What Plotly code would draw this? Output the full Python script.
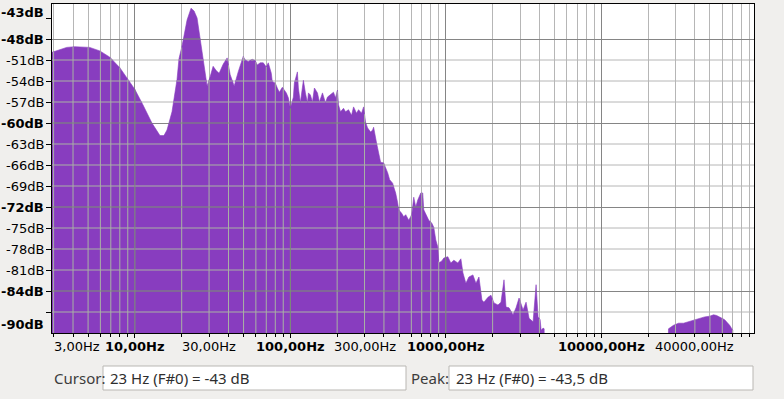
import numpy as np
import plotly.graph_objects as go

# ---------------- data ----------------
freq_hz = [2.93, 3.28, 3.64, 4.10, 5.12, 5.95, 6.90, 8.00, 9.01, 10.0,
           11.26, 12.87, 14.50, 15.38, 16.09, 17.33, 18.66, 19.22, 20.10, 21.65,
           22.98, 24.03, 25.12, 27.06, 28.29, 29.14, 30.47, 31.86, 33.31, 34.83,
           36.96, 39.22, 41.02, 43.53, 46.19, 49.75, 51.24, 53.58, 56.86, 59.47,
           61.26, 64.04, 66.96, 70.00, 72.12, 75.41, 76.54, 80.02, 82.43, 84.92,
           88.79, 91.47, 94.23, 97.07, 100.0, 104.6, 106.1, 111.0, 112.6, 116.0,
           119.5, 121.3, 125.0, 128.8, 130.7, 134.6, 138.7, 142.8, 149.4, 153.8,
           160.9, 168.2, 173.3, 181.2, 189.4, 195.1, 201.0, 204.0, 210.2, 219.8,
           226.4, 236.7, 247.5, 255.0, 266.6, 274.6, 287.1, 295.8, 304.7, 314.0,
           328.2, 338.1, 343.2, 358.8, 369.6, 380.7, 398.1, 410.2, 422.5, 435.3,
           455.0, 461.8, 475.8, 490.1, 497.5, 520.3, 535.9, 552.2, 577.4, 603.6,
           621.8, 640.6, 659.9, 690.0, 710.6, 721.3, 754.2, 777.0, 812.4, 836.7,
           861.9, 887.9, 901.2, 942.3, 970.7, 1030, 1077, 1126, 1195, 1250,
           1288, 1346, 1407, 1494, 1562, 1633, 1707, 1759, 1866, 1951,
           2040, 2165, 2264, 2367, 2439, 2550, 2706, 2829, 2958, 3140,
           3282, 3432, 3642, 3807, 3923, 4042, 4103, 4225, 4290, 4352,
           26500, 27060, 29140, 31400, 33810, 36420, 39230, 42250, 46190, 49750,
           52800, 55220, 57720, 62180, 66960, 70000, 71060, 96000]
level_db = [-49.9, -49.5, -49.2, -49.1, -49.2, -49.7, -50.6, -52.1, -53.8, -55.2,
            -57.4, -60.0, -61.8, -61.8, -61.0, -58.4, -53.8, -50.8, -49.0, -45.3,
            -43.6, -44.0, -45.0, -49.6, -52.9, -54.7, -53.4, -51.9, -52.5, -52.9,
            -51.6, -50.7, -53.1, -54.7, -52.7, -50.5, -51.0, -51.2, -50.9, -51.1,
            -51.7, -51.4, -51.4, -52.0, -51.4, -52.9, -54.1, -54.3, -55.0, -55.6,
            -54.9, -55.3, -55.7, -56.4, -57.9, -56.3, -54.3, -52.7, -55.0, -57.1,
            -55.3, -53.9, -55.7, -57.1, -55.7, -56.0, -57.0, -55.0, -55.7, -57.0,
            -55.7, -57.1, -56.3, -56.0, -55.6, -56.4, -55.3, -57.4, -58.4, -57.9,
            -58.4, -58.1, -58.9, -57.7, -58.6, -58.1, -58.6, -57.7, -59.9, -60.7,
            -61.3, -61.0, -60.6, -62.9, -64.3, -65.6, -65.7, -66.3, -67.1, -68.1,
            -68.6, -69.1, -70.0, -71.4, -72.4, -72.9, -73.4, -73.1, -73.9, -73.1,
            -70.6, -72.0, -71.0, -70.0, -70.0, -72.4, -73.4, -73.9, -74.3, -74.9,
            -76.7, -77.7, -80.0, -79.7, -79.3, -79.1, -80.0, -79.6, -80.0, -79.4,
            -81.4, -82.9, -82.0, -81.7, -82.9, -82.0, -85.3, -85.6, -84.9, -84.6,
            -85.7, -86.0, -85.6, -82.4, -86.3, -86.4, -87.4, -86.4, -85.0, -86.7,
            -85.6, -87.9, -88.4, -83.1, -87.7, -88.1, -89.6, -89.3, -89.4, -100,
            -100, -89.4, -88.9, -88.6, -88.6, -88.4, -88.1, -87.9, -87.7, -87.6,
            -87.4, -87.5, -87.7, -88.1, -88.9, -89.6, -100, -100]

y_label_vals = [-43, -48, -51, -54, -57, -60, -63, -66, -69, -72, -75, -78, -81, -84, -90]
y_label_bold = [-43, -48, -60, -72, -84, -90]
y_grid_major = [-48, -60, -72, -84]
y_grid_minor = [-51, -54, -57, -63, -66, -69, -75, -78, -81, -87]

x_label_vals = [3, 10, 30, 100, 300, 1000, 10000, 40000]
x_label_text = ["3,00Hz", "10,00Hz", "30,00Hz", "100,00Hz", "300,00Hz",
                "1000,00Hz", "10000,00Hz", "40000,00Hz"]
x_label_bold = [False, True, False, True, False, True, True, False]
x_grid_major = [10, 100, 1000, 10000]

cursor_text = "23 Hz (F#0) = -43 dB"
peak_text = "23 Hz (F#0) = -43,5 dB"

F_MIN, F_MAX = 2.93, 96000.0
DB_MIN, DB_MAX = -90, -43

# ---------------- style ----------------
W, H = 784, 399
ML, MR, MT, MB = 52, 30, 4, 66
PW, PH = W - ML - MR, H - MT - MB
FILL = "#883dbf"
GRID_MINOR, GRID_MAJOR = "#b6b6b6", "#858585"
OVER_MINOR, OVER_MAJOR = "#a9b2a4", "#7a9470"
BG = "#f0efed"
TICK_FONT = dict(family="DejaVu Sans", size=13, color="black")

x_grid_minor = [m * 10 ** e for e in range(0, 5) for m in range(2, 10)
                if F_MIN <= m * 10 ** e <= F_MAX]

lx0, lx1 = np.log10(F_MIN), np.log10(F_MAX)


def xpaper(f):
    return (np.log10(f) - lx0) / (lx1 - lx0)


def px_to_paper(px, py):
    return (px - ML) / PW, (H - MB - py) / PH


fig = go.Figure()

# baseline + filled spectrum
fig.add_trace(go.Scatter(x=freq_hz, y=[-100] * len(freq_hz), mode="lines",
                         line=dict(width=0, color=FILL), hoverinfo="skip"))
fig.add_trace(go.Scatter(x=freq_hz, y=level_db, mode="lines", fill="tonexty",
                         fillcolor=FILL, line=dict(width=0.6, color=FILL),
                         hoverinfo="skip"))

# grid lines drawn over the filled area (different tint in the reference)
logf = np.log10(freq_hz)


def over_vertical(vals):
    xs, ys = [], []
    for g in vals:
        top = min(float(np.interp(np.log10(g), logf, level_db)), DB_MAX)
        if top > DB_MIN:
            xs += [g, g, None]
            ys += [DB_MIN, top, None]
    return xs, ys


u = np.linspace(lx0, lx1, 8000)
yy = np.interp(u, logf, level_db)


def over_horizontal(vals):
    xs, ys = [], []
    for v in vals:
        m = yy >= v
        i = 0
        n = len(m)
        while i < n:
            if m[i]:
                j = i
                while j + 1 < n and m[j + 1]:
                    j += 1
                xs += [10 ** u[i], 10 ** u[j], None]
                ys += [v, v, None]
                i = j + 1
            else:
                i += 1
    return xs, ys


for vals_v, vals_h, col in [(x_grid_minor, y_grid_minor, OVER_MINOR),
                            (x_grid_major, y_grid_major, OVER_MAJOR)]:
    xv, yv = over_vertical(vals_v)
    xh, yh = over_horizontal(vals_h)
    fig.add_trace(go.Scatter(x=xv + xh, y=yv + yh, mode="lines",
                             line=dict(width=1, color=col), hoverinfo="skip"))

fig.update_xaxes(type="log", range=[lx0, lx1], tickmode="array", tickvals=x_grid_major,
                 showticklabels=False, ticks="outside", ticklen=4, tickcolor="black",
                 showgrid=True, gridcolor=GRID_MAJOR, gridwidth=1,
                 minor=dict(tickmode="array", tickvals=x_grid_minor, ticks="outside",
                            ticklen=3, tickcolor="black", showgrid=True,
                            gridcolor=GRID_MINOR, gridwidth=1),
                 showline=True, linecolor="black", linewidth=1, mirror=True,
                 zeroline=False, fixedrange=True)
fig.update_yaxes(range=[DB_MIN, DB_MAX], tickmode="array", tickvals=y_grid_major,
                 showticklabels=False, ticks="outside", ticklen=5, tickcolor="black",
                 showgrid=True, gridcolor=GRID_MAJOR, gridwidth=1,
                 minor=dict(tickmode="array", tickvals=y_grid_minor + [-45], ticks="outside",
                            ticklen=5, tickcolor="black", showgrid=False),
                 showline=True, linecolor="black", linewidth=1, mirror=True,
                 zeroline=False, fixedrange=True)

annotations = []
# y labels
for v in y_label_vals:
    txt = f"{v}dB"
    if v in y_label_bold:
        txt = f"<b>{txt}</b>"
    shift = 0
    if v == DB_MAX:
        shift = -8.5
    elif v == DB_MIN:
        shift = 8.5
    annotations.append(dict(xref="paper", x=0, xanchor="right", xshift=-6,
                            yref="y", y=v, yanchor="middle", yshift=shift,
                            text=txt, showarrow=False, font=TICK_FONT))
# x labels
for v, t, b in zip(x_label_vals, x_label_text, x_label_bold):
    txt = f"<b>{t}</b>" if b else t
    xp = float(xpaper(v))
    anchor = "center"
    if xp < 0.03:
        anchor = "left"
    annotations.append(dict(xref="paper", x=xp, xanchor=anchor, xshift=-2 if anchor == "left" else 0,
                            yref="paper", y=0, yanchor="middle", yshift=-13,
                            text=txt, showarrow=False, font=TICK_FONT))

shapes = []
# gray minor horizontal grid lines (under the spectrum)
for v in y_grid_minor:
    shapes.append(dict(type="line", xref="paper", yref="y", x0=0, x1=1, y0=v, y1=v,
                       line=dict(color=GRID_MINOR, width=1), layer="below"))

# bottom info widgets
for (bx0, bx1) in [(103, 406), (449, 753)]:
    x0, y0 = px_to_paper(bx0, 390)
    x1, y1 = px_to_paper(bx1, 366)
    shapes.append(dict(type="rect", xref="paper", yref="paper", x0=x0, x1=x1, y0=y0, y1=y1,
                       line=dict(color="#b9b7b3", width=1), fillcolor="white", layer="above"))

for (tx, txt, col) in [(52, "Cursor:", "#3c3c3c"), (108, cursor_text, "#2e2e2e"),
                       (409, "Peak:", "#3c3c3c"), (454, peak_text, "#2e2e2e")]:
    xp, yp = px_to_paper(tx, 378)
    annotations.append(dict(xref="paper", x=xp, xanchor="left", yref="paper", y=yp,
                            yanchor="middle", text=txt, showarrow=False,
                            font=dict(family="Noto Sans", size=15, color=col)))

fig.update_layout(width=W, height=H, margin=dict(l=ML, r=MR, t=MT, b=MB, pad=0),
                  paper_bgcolor=BG, plot_bgcolor="white", showlegend=False,
                  annotations=annotations, shapes=shapes)

fig.write_html("out.html", config={"displayModeBar": False},
               post_script="document.body.style.margin='0px';document.body.style.background='" + BG + "';")
